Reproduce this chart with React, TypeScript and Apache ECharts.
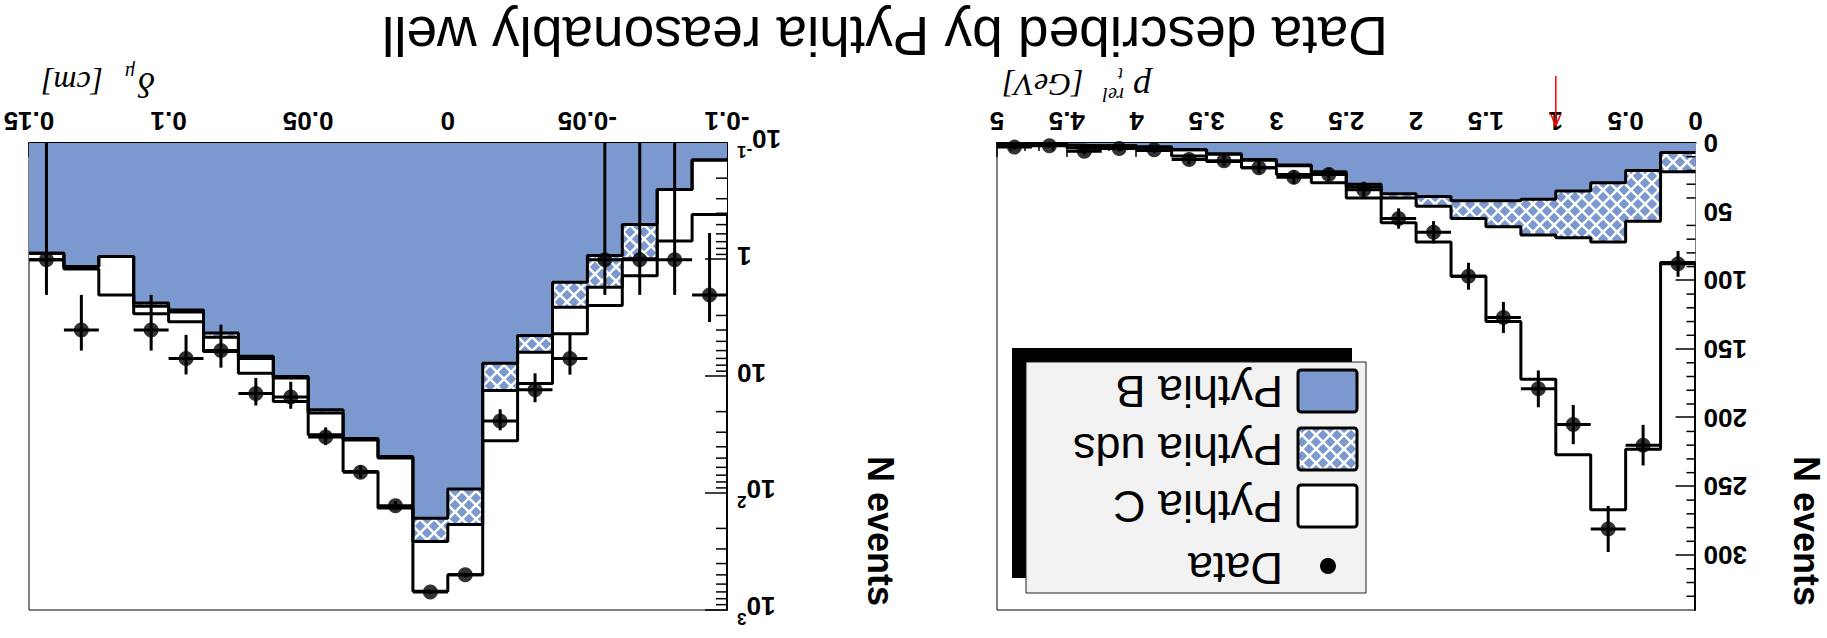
import React, { useEffect, useRef } from "react";
import * as echarts from "echarts";

// ---------------- p_T^rel panel (bins of 0.25 GeV) ----------------
const ptBinWidth = 0.25;
const ptCenters = [0.125, 0.375, 0.625, 0.875, 1.125, 1.375, 1.625, 1.875, 2.125, 2.375, 2.625, 2.875, 3.125, 3.375, 3.625, 3.875, 4.125, 4.375, 4.625, 4.875];
const ptPythiaB = [7, 20, 29, 35, 41, 42, 42, 39, 37, 30, 21, 16, 12, 8, 5, 3, 2, 1.5, 0.5, 0.3];
const ptPythiaUds = [14, 37, 43, 34, 26, 19, 13, 7, 3, 2, 1.5, 0.5, 0.5, 0, 0, 0, 0, 0, 0, 0];
const ptPythiaC = [66, 166, 195, 158, 105, 69, 42, 26, 18, 8, 6.5, 6.5, 5.5, 5.5, 4.5, 2.5, 2, 2, 1, 1.7];
const ptData = [88, 220, 281, 205, 179, 127, 97, 65, 55, 34, 23, 25, 18, 13, 12, 5, 4, 6, 2, 3];
const ptDataErr = [9.4, 14.8, 16.8, 14.3, 13.4, 11.3, 9.8, 8.1, 7.4, 5.8, 4.8, 5, 4.2, 3.6, 3.5, 2.2, 2, 2.4, 1.4, 1.7];
const ptCutValue = 1; // red arrow
const ptYMax = 340;

// ---------------- delta_mu panel (bins of 0.0125 cm, log scale) ----------------
const dBinWidth = 0.0125;
const dCenters = [-0.09375, -0.08125, -0.06875, -0.05625, -0.04375, -0.03125, -0.01875, -0.00625, 0.00625, 0.01875, 0.03125, 0.04375, 0.05625, 0.06875, 0.08125, 0.09375, 0.10625, 0.11875, 0.13125, 0.14375];
const dPythiaB = [0.14, 0.25, 0.5, 0.92, 1.56, 4.45, 7.7, 92, 164, 48.5, 34, 19.3, 10, 6.7, 4.25, 2.7, 2.35, 0.94, 1.14, 0.88];
const dPythiaUds = [0, 0, 0.48, 0.8, 0.99, 1.75, 5.5, 93, 95, 1.5, 1, 1.2, 0.3, 0.3, 0.35, 0.1, 0.15, 0, 0, 0];
const dPythiaC = [0.27, 0.44, 0.39, 0.74, 1.75, 5.3, 22.3, 315, 431, 84, 30, 11.1, 6.1, 2.4, 1.5, 0.6, 0.4, 1.06, 0.06, 0.12];
const dData = [2, 1, 1, 1, 7, 13, 24, 500, 700, 128, 66, 33, 15, 14, 6, 7, 4, null, 4, 1];
const dDataErr = [1.41, 1, 1, 1, 2.65, 3.61, 4.9, 22.4, 26.5, 11.3, 8.1, 5.7, 3.9, 3.7, 2.4, 2.6, 2, null, 2, 1];
const dLogMin = 0.1;
const dLogMax = 1000;
const logTickText = ["{b|10}{s|-1}", "{b|1}", "{b|10}", "{b|10}{s|2}", "{b|10}{s|3}"]; // exponents -1..3

// ---------------- texts ----------------
const titleText = "Data described by Pythia reasonably well";
const yTitle = "N events";
const legendNames = ["Data", "Pythia C", "Pythia uds", "Pythia B"];

const BLUE = "#7b98cf";
const SANS = "'Liberation Sans', Arial, Helvetica, sans-serif";
const SERIF = "'Liberation Serif', 'Times New Roman', serif";
const HATCH = 14;

function makeHatch(): HTMLCanvasElement {
  const s = HATCH;
  const c = document.createElement("canvas");
  c.width = s;
  c.height = s;
  const g = c.getContext("2d")!;
  g.fillStyle = BLUE;
  g.fillRect(0, 0, s, s);
  g.strokeStyle = "#ffffff";
  g.lineWidth = 2.5;
  const segs = [
    [0, 0, s, s], [-s / 2, s / 2, s / 2, 1.5 * s], [s / 2, -s / 2, 1.5 * s, s / 2],
    [s, 0, 0, s], [-s / 2, s / 2, s / 2, -s / 2], [s / 2, 1.5 * s, 1.5 * s, s / 2],
  ];
  segs.forEach(([a, b, cc, d]) => {
    g.beginPath();
    g.moveTo(a, b);
    g.lineTo(cc, d);
    g.stroke();
  });
  return c;
}

function cumulate(layers: number[][]): number[][] {
  const out: number[][] = [];
  let run = layers[0].map(() => 0);
  layers.forEach((l) => {
    run = run.map((v, i) => v + l[i]);
    out.push(run);
  });
  return out;
}

function stepData(centers: number[], w: number, values: number[]) {
  const d = centers.map((c, i) => [c - w / 2, values[i]]);
  d.push([centers[centers.length - 1] + w / 2, values[values.length - 1]]);
  return d;
}

function stackSeries(idx: number, centers: number[], w: number, values: number[], fill: any) {
  return {
    type: "line",
    xAxisIndex: idx,
    yAxisIndex: idx,
    data: stepData(centers, w, values),
    step: "end",
    symbol: "none",
    silent: true,
    clip: true,
    lineStyle: { color: "#000", width: 3 },
    areaStyle: { color: fill, opacity: 1, origin: "start" },
    z: 2,
  };
}

function errorSeries(idx: number, centers: number[], w: number, vals: (number | null)[], errs: (number | null)[], yMin: number) {
  const data = centers
    .map((c, i) => [c, vals[i], errs[i]])
    .filter((d) => d[1] != null);
  return {
    type: "custom",
    xAxisIndex: idx,
    yAxisIndex: idx,
    data,
    silent: true,
    z: 4,
    renderItem: (_p: any, api: any) => {
      const x = api.value(0);
      const v = api.value(1);
      const e = api.value(2);
      const lo = Math.max(v - e, yMin);
      const pLo = api.coord([x, lo]);
      const pHi = api.coord([x, v + e]);
      const pL = api.coord([x - w / 2, v]);
      const pR = api.coord([x + w / 2, v]);
      return {
        type: "group",
        children: [
          { type: "line", shape: { x1: pLo[0], y1: pLo[1], x2: pHi[0], y2: pHi[1] }, style: { stroke: "#000", lineWidth: 3 } },
          { type: "line", shape: { x1: pL[0], y1: pL[1], x2: pR[0], y2: pR[1] }, style: { stroke: "#000", lineWidth: 3 } },
        ],
      };
    },
  };
}

function dotSeries(idx: number, centers: number[], vals: (number | null)[]) {
  return {
    type: "scatter",
    xAxisIndex: idx,
    yAxisIndex: idx,
    data: centers.map((c, i) => [c, vals[i]]).filter((d) => d[1] != null),
    symbol: "circle",
    symbolSize: 15,
    itemStyle: { color: "#000" },
    silent: true,
    z: 5,
  };
}

function minorTickSeries(idx: number, xAt: number, ticks: number[], len: number) {
  return {
    type: "custom",
    xAxisIndex: idx,
    yAxisIndex: idx,
    data: ticks.map((t) => [xAt, t]),
    silent: true,
    z: 6,
    renderItem: (_p: any, api: any) => {
      const p = api.coord([api.value(0), api.value(1)]);
      return { type: "line", shape: { x1: p[0], y1: p[1], x2: p[0] + len, y2: p[1] }, style: { stroke: "#000", lineWidth: 1.5 } };
    },
  };
}

const tickLabelStyle = { color: "#000", fontFamily: SANS, fontWeight: "bold" as const, fontSize: 26 };

function serifText(id: string, text: string, x: number, y: number, size: number, align: string) {
  return {
    id, type: "text", x, y,
    style: { text, fontSize: size, lineHeight: Math.round(size * 0.8), fontStyle: "italic", fontFamily: SERIF, fill: "#000", align, verticalAlign: "middle", textAlign: align, textVerticalAlign: "middle" },
  };
}

export default function App() {
  const ref = useRef<HTMLDivElement>(null);

  useEffect(() => {
    const chart = echarts.init(ref.current!, null, { renderer: "svg", width: 1827, height: 638 });
    const hatchCanvas = makeHatch();
    const hatch = { image: hatchCanvas, repeat: "repeat", imageWidth: HATCH, imageHeight: HATCH };

    const [ptL1, ptL2, ptL3] = cumulate([ptPythiaB, ptPythiaUds, ptPythiaC]);
    const [dL1, dL2, dL3] = cumulate([dPythiaB, dPythiaUds, dPythiaC]);

    const ptMinor: number[] = [];
    for (let v = 10; v < ptYMax; v += 10) if (v % 50 !== 0) ptMinor.push(v);
    const logMinor: number[] = [];
    [0.1, 1, 10, 100].forEach((d) => [2, 3, 4, 5, 6, 7, 8, 9].forEach((k) => logMinor.push(+(k * d).toPrecision(3))));

    const baseGraphics: any[] = [
      // title
      { id: "title", type: "text", x: 942, y: 602, style: { text: titleText, fontSize: 55, lineHeight: 42, fontFamily: SANS, fill: "#000", align: "center", verticalAlign: "middle", textAlign: "center", textVerticalAlign: "middle" } },
      // y titles
      { id: "yt0", type: "text", x: 21, y: 32, rotation: Math.PI / 2, style: { text: yTitle, fontSize: 36, lineHeight: 30, fontWeight: "bold", fontFamily: SANS, fill: "#000", align: "right", verticalAlign: "middle", textAlign: "right", textVerticalAlign: "middle" } },
      { id: "yt1", type: "text", x: 947, y: 32, rotation: Math.PI / 2, style: { text: yTitle, fontSize: 36, lineHeight: 30, fontWeight: "bold", fontFamily: SANS, fill: "#000", align: "right", verticalAlign: "middle", textAlign: "right", textVerticalAlign: "middle" } },
      // x title p_t^rel [GeV]
      serifText("xt0p", "p", 676, 550, 36, "left"),
      serifText("xt0s", "rel", 703, 543, 20, "left"),
      serifText("xt0t", "t", 704, 564, 18, "left"),
      serifText("xt0u", "[GeV]", 825, 553, 32, "right"),
      // x title delta_mu [cm]
      serifText("xt1d", "δ", 1672, 553, 36, "left"),
      serifText("xt1m", "μ", 1692, 565, 20, "left"),
      serifText("xt1u", "[cm]", 1786, 555, 32, "right"),
      // legend
      { id: "lgShadow", type: "rect", shape: { x: 475, y: 60, width: 340, height: 230 }, style: { fill: "#000" }, z: 10 },
      { id: "lgBox", type: "rect", shape: { x: 461, y: 45, width: 340, height: 231 }, style: { fill: "#f2f2f2", stroke: "#222", lineWidth: 1 }, z: 11 },
      { id: "lgDot", type: "circle", shape: { cx: 499, cy: 72, r: 8 }, style: { fill: "#000" }, z: 12 },
      { id: "lgC", type: "rect", shape: { x: 470, y: 111, width: 59, height: 42, r: 3 }, style: { fill: "#fff", stroke: "#000", lineWidth: 3 }, z: 12 },
      { id: "lgU", type: "rect", shape: { x: 470, y: 168, width: 59, height: 42, r: 3 }, style: { fill: hatch, stroke: "#000", lineWidth: 3 }, z: 12 },
      { id: "lgB", type: "rect", shape: { x: 470, y: 226, width: 59, height: 42, r: 3 }, style: { fill: BLUE, stroke: "#000", lineWidth: 3 }, z: 12 },
      ...legendNames.map((n, i) => ({
        id: "lgT" + i, type: "text", x: 544, y: [70, 132, 189, 247][i], z: 12,
        style: { text: n, fontSize: 45, fontFamily: SANS, fill: "#000", align: "left", verticalAlign: "middle", textAlign: "left", textVerticalAlign: "middle" },
      })),
    ];

    const option: any = {
      animation: false,
      backgroundColor: "#fff",
      grid: [
        { left: 131.5, top: 28, width: 698.5, height: 467, show: true, borderColor: "#000", borderWidth: 1, backgroundColor: "#fff" },
        { left: 1100, top: 28, width: 698, height: 467, show: true, borderColor: "#000", borderWidth: 1, backgroundColor: "#fff" },
      ],
      xAxis: [
        {
          gridIndex: 0, type: "value", min: 0, max: 5, interval: 0.5,
          axisLine: { onZero: false, lineStyle: { color: "#000", width: 2 } },
          axisTick: { inside: true, length: 14, lineStyle: { color: "#000", width: 1.5 } },
          minorTick: { show: true, splitNumber: 5, length: 8, lineStyle: { color: "#000", width: 1.5 } },
          axisLabel: { ...tickLabelStyle, margin: 9 },
          splitLine: { show: false },
        },
        {
          gridIndex: 1, type: "value", min: -0.1, max: 0.15, interval: 0.05,
          axisLine: { onZero: false, lineStyle: { color: "#000", width: 2 } },
          axisTick: { inside: true, length: 14, lineStyle: { color: "#000", width: 1.5 } },
          minorTick: { show: true, splitNumber: 5, length: 8, lineStyle: { color: "#000", width: 1.5 } },
          axisLabel: { ...tickLabelStyle, margin: 9 },
          splitLine: { show: false },
        },
      ],
      yAxis: [
        {
          gridIndex: 0, type: "value", min: 0, max: ptYMax, interval: 50,
          axisLine: { onZero: false, lineStyle: { color: "#000", width: 2 } },
          axisTick: { inside: true, length: 20, lineStyle: { color: "#000", width: 1.5 } },
          axisLabel: { ...tickLabelStyle, margin: 8, showMaxLabel: false },
          splitLine: { show: false },
        },
        {
          gridIndex: 1, type: "log", logBase: 10, min: dLogMin, max: dLogMax,
          axisLine: { onZero: false, lineStyle: { color: "#000", width: 2 } },
          axisTick: { inside: true, length: 22, lineStyle: { color: "#000", width: 1.5 } },
          axisLabel: {
            margin: 10,
            formatter: (v: number) => logTickText[Math.round(Math.log10(v)) + 1] ?? "",
            rich: {
              b: { ...tickLabelStyle, lineHeight: 34, verticalAlign: "bottom" },
              s: { ...tickLabelStyle, fontSize: 17, lineHeight: 34, verticalAlign: "top" },
            },
          },
          splitLine: { show: false },
        },
      ],
      series: [
        stackSeries(0, ptCenters, ptBinWidth, ptL3, "#fff"),
        stackSeries(0, ptCenters, ptBinWidth, ptL2, hatch),
        stackSeries(0, ptCenters, ptBinWidth, ptL1, BLUE),
        errorSeries(0, ptCenters, ptBinWidth, ptData, ptDataErr, 0),
        dotSeries(0, ptCenters, ptData),
        minorTickSeries(0, 0, ptMinor, 9),
        stackSeries(1, dCenters, dBinWidth, dL3, "#fff"),
        stackSeries(1, dCenters, dBinWidth, dL2, hatch),
        stackSeries(1, dCenters, dBinWidth, dL1, BLUE),
        errorSeries(1, dCenters, dBinWidth, dData, dDataErr, dLogMin),
        dotSeries(1, dCenters, dData),
        minorTickSeries(1, -0.1, logMinor, 11),
      ],
      graphic: { elements: baseGraphics },
    };

    chart.setOption(option);

    const ax = chart.convertToPixel({ xAxisIndex: 0 }, ptCutValue) as number;
    chart.setOption({
      graphic: {
        elements: [
          ...baseGraphics,
          { id: "arrowLine", type: "line", shape: { x1: ax, y1: 562, x2: ax, y2: 512 }, style: { stroke: "#ff0000", lineWidth: 1.5 }, z: 20 },
          { id: "arrowHead", type: "polyline", shape: { points: [[ax - 5, 524], [ax, 512], [ax + 5, 524]] }, style: { stroke: "#ff0000", lineWidth: 1.5, fill: null }, z: 20 },
        ],
      },
    });

    return () => chart.dispose();
  }, []);

  return (
    <div
      ref={ref}
      style={{ position: "absolute", left: 0, top: 0, width: 1827, height: 638, transform: "rotate(180deg)", transformOrigin: "50% 50%", background: "#fff" }}
    />
  );
}
